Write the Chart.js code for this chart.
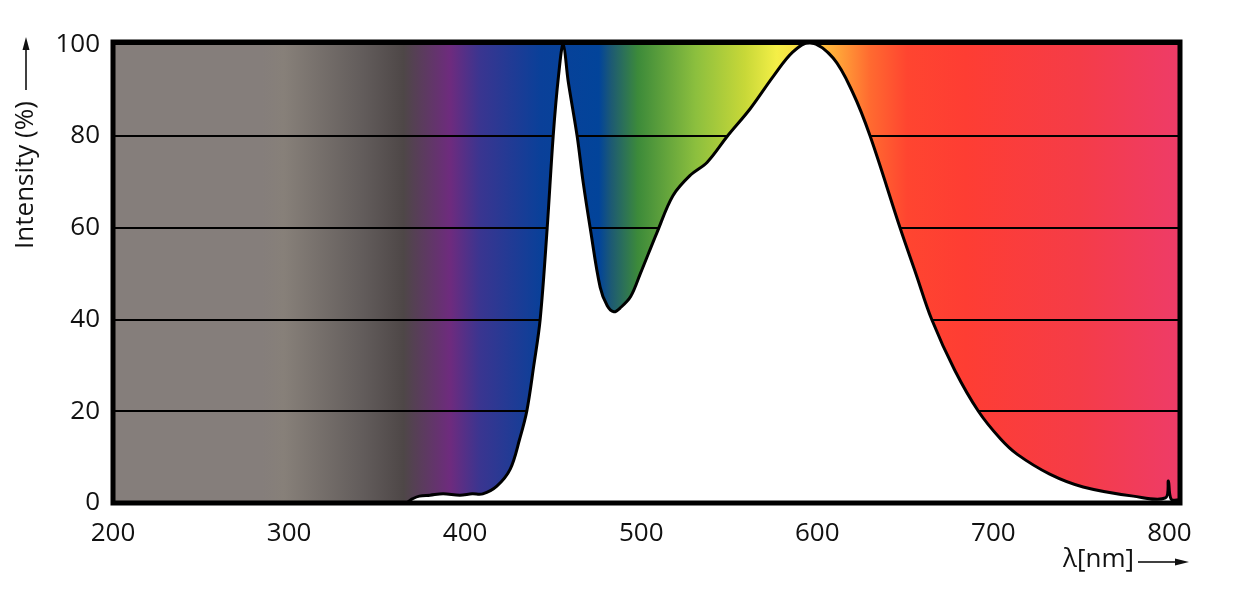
<!DOCTYPE html>
<html>
<head>
<meta charset="utf-8">
<script src="https://cdn.jsdelivr.net/npm/chart.js@4"></script>
<style>
  html, body { margin: 0; padding: 0; background: #fff; }
  #wrap { width: 1239px; height: 601px; }
</style>
</head>
<body>
<div id="wrap"><canvas id="spectrum"></canvas></div>
<script>
// Wavelength (nm) and relative intensity (%)
const wavelengths = [200, 366, 370, 374, 380, 387.5, 397, 404, 410, 418,
    425.6, 431, 435, 439, 442.6, 446.6, 450, 453, 455.7, 458.5,
    463.6, 467, 471, 476.7, 480.7, 484.5, 488, 494, 499.5, 509,
    518, 528, 537.5, 549, 562, 575, 586, 596, 609, 620,
    630, 647, 656, 665, 678, 691.5, 704, 713.6, 732, 751,
    779.5, 797.7, 799.4, 801, 806];
const intensity = [0, 0, 0.9, 1.5, 1.7, 2.0, 1.7, 2.0, 2.0, 3.7,
    7.4, 14, 20, 30, 40, 60, 80, 93, 100, 92,
    80, 70, 60, 47, 43, 41.7, 42.5, 45, 50, 59,
    67, 71.5, 74.3, 80, 86, 93, 98.3, 100.4, 97, 89.6,
    80, 60, 50, 40, 29, 20, 14, 10.6, 6.3, 3.5,
    1.5, 1.1, 4.8, 0.8, 0.7];
const xTicks = [200, 300, 400, 500, 600, 700, 800];
const yTicks = [0, 20, 40, 60, 80, 100];

// background spectrum colours (nm -> colour)
const spectrumNm = [200, 285, 297, 342, 365, 391.5, 408.5, 442.6, 476, 483, 498, 531, 559, 577, 598, 613, 630, 651, 684, 749, 806];
const spectrumCol = ["#857e7b", "#857e7b", "#878079", "#625c5b", "#4e4747", "#6e2b7e", "#3a3590", "#0a4099", "#02449a", "#1d5a73",
    "#3c8a3a", "#8cbf3e", "#c8d838", "#f4ef47", "#ffd040", "#ffa038", "#ff6a30", "#ff4530", "#fe3d33", "#f53c48", "#ee3c68"];

const FONT = "'Open Sans', 'Noto Sans', sans-serif";

const spectrumPlugin = {
    id: "spectrum",
    beforeDraw(chart) {
        const {ctx, chartArea: a, scales} = chart;
        const x0 = scales.x.getPixelForValue(200);
        const x1 = scales.x.getPixelForValue(806);
        const g = ctx.createLinearGradient(x0, 0, x1, 0);
        spectrumNm.forEach(function (nm, i) {
            const p = (scales.x.getPixelForValue(nm) - x0) / (x1 - x0);
            g.addColorStop(Math.min(1, Math.max(0, p)), spectrumCol[i]);
        });
        ctx.save();
        ctx.fillStyle = g;
        ctx.fillRect(a.left, a.top, a.right - a.left, a.bottom - a.top);
        ctx.restore();
    },
    afterDraw(chart) {
        const {ctx, chartArea: a} = chart;
        ctx.save();
        // frame
        ctx.strokeStyle = "#000";
        ctx.lineWidth = 5;
        ctx.strokeRect(a.left, a.top, a.right - a.left, a.bottom - a.top);

        ctx.fillStyle = "#111";
        ctx.font = "26px " + FONT;
        // y title with arrow
        ctx.save();
        ctx.translate(26, 175);
        ctx.rotate(-Math.PI / 2);
        ctx.textAlign = "center";
        ctx.textBaseline = "middle";
        ctx.fillText("Intensity (%)", 0, 0);
        ctx.restore();
        ctx.lineWidth = 1.5;
        ctx.beginPath();
        ctx.moveTo(26, 90);
        ctx.lineTo(26, 46);
        ctx.stroke();
        ctx.beginPath();
        ctx.moveTo(26, 37);
        ctx.lineTo(22.5, 50);
        ctx.lineTo(29.5, 50);
        ctx.closePath();
        ctx.fill();

        // x title with arrow
        ctx.textAlign = "right";
        ctx.textBaseline = "middle";
        ctx.fillText("λ[nm]", 1134, 560);
        ctx.beginPath();
        ctx.moveTo(1138, 562);
        ctx.lineTo(1178, 562);
        ctx.stroke();
        ctx.beginPath();
        ctx.moveTo(1189, 562);
        ctx.lineTo(1175, 558.5);
        ctx.lineTo(1175, 565.5);
        ctx.closePath();
        ctx.fill();
        ctx.restore();
    }
};

const points = wavelengths.map(function (w, i) {
    return {x: w, y: intensity[i]};
});

new Chart(document.getElementById("spectrum"), {
    type: "line",
    data: {
        datasets: [{
            data: points,
            borderColor: "#000",
            borderWidth: 3,
            backgroundColor: "#fff",
            fill: "origin",
            pointRadius: 0,
            tension: 0.35
        }]
    },
    options: {
        responsive: true,
        maintainAspectRatio: false,
        animation: false,
        events: [],
        layout: {padding: {left: 0, right: 59, top: 42, bottom: 0}},
        plugins: {
            legend: {display: false},
            tooltip: {enabled: false}
        },
        scales: {
            x: {
                type: "linear",
                min: 200,
                max: 806,
                afterBuildTicks: function (scale) {
                    scale.ticks = xTicks.map(function (v) { return {value: v}; });
                },
                afterFit: function (scale) { scale.height = 98; },
                grid: {display: false},
                border: {display: false},
                ticks: {
                    color: "#111",
                    font: {family: FONT, size: 26},
                    padding: 7,
                    maxRotation: 0
                }
            },
            y: {
                min: 0,
                max: 100.5,
                afterBuildTicks: function (scale) {
                    scale.ticks = yTicks.map(function (v) { return {value: v}; });
                },
                afterFit: function (scale) { scale.width = 113; },
                grid: {color: "#000", lineWidth: 2, drawTicks: false},
                border: {display: false},
                ticks: {
                    color: "#111",
                    font: {family: FONT, size: 26},
                    padding: 13
                }
            }
        }
    },
    plugins: [spectrumPlugin]
});
</script>
</body>
</html>
